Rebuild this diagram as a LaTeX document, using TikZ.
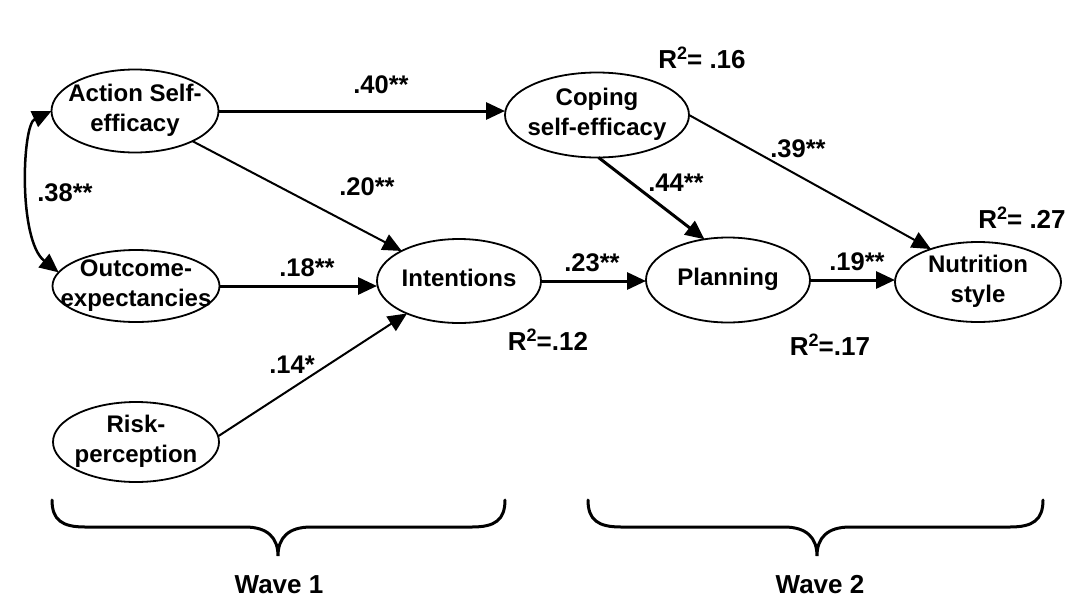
\documentclass[tikz,border=0pt]{standalone}
\usepackage{fontspec}
\setmainfont{Liberation Sans}
\usetikzlibrary{shapes.geometric,arrows.meta}
% text of a variable, centred on the node without widening its ellipse
\newcommand\vartext[1]{\smash{\makebox[0pt]{\raisebox{-.25em}{\begin{tabular}{@{}c@{}}#1\end{tabular}}}}}
% squared multiple correlation
\newcommand\rsq{R\raisebox{.36em}{\fontsize{18}{18}\selectfont 2}}
\begin{document}
\begin{tikzpicture}[x=1pt,y=-1pt,
  var/.style={ellipse,draw,line width=1.8pt,inner sep=0pt,outer sep=0pt,
    font=\bfseries\fontsize{24}{30}\selectfont},
  link/.style={line width=3pt,-{Triangle[length=19pt,width=17pt]}},
  thinlink/.style={line width=2pt,-{Triangle[length=19pt,width=17pt]}},
  coef/.style={font=\bfseries\fontsize{25.5}{25.5}\selectfont,inner sep=0pt},
  rlabel/.style={font=\bfseries\fontsize{26}{26}\selectfont,inner sep=0pt},
  wavebrace/.style={line width=3pt,line cap=round},
  wavelabel/.style={font=\bfseries\fontsize{26}{26}\selectfont,inner sep=0pt}]
\useasboundingbox (0,0) rectangle (1069,603);

% variables
\node[var,minimum width=167pt,minimum height=83pt] (asf) at (135,111) {\vartext{Action Self-\\efficacy}};
\node[var,minimum width=167pt,minimum height=72pt] (oe)  at (136,286) {\vartext{Outcome-\\expectancies}};
\node[var,minimum width=166pt,minimum height=80pt] (rp)  at (136,442) {\vartext{Risk-\\perception}};
\node[var,minimum width=164pt,minimum height=84pt] (int) at (459,281) {\vartext{Intentions}};
\node[var,minimum width=184pt,minimum height=85pt] (cop) at (597,115) {\vartext{Coping\\self-efficacy}};
\node[var,minimum width=164pt,minimum height=85pt] (pl)  at (728,280) {\vartext{Planning}};
\node[var,minimum width=166pt,minimum height=80pt] (nut) at (978,282) {\vartext{Nutrition\\style}};

% paths
\draw[link] (asf.east) -- (cop.west |- asf.east);
\draw[thinlink] (asf) -- (int);
\draw[link] (oe.east) -- (int.west |- oe.east);
\draw[thinlink] (rp.4) -- (int.212);
\draw[link] (int.east) -- (pl.west |- int.east);
\draw[link] (cop.272) -- (pl.120);
\draw[thinlink] (cop.east) -- (nut.145);
\draw[link] (pl.east) -- (nut.west |- pl.east);

% correlation between the first two predictors
\draw[line width=2.5pt,{Triangle[length=19pt,width=17pt]}-{Triangle[length=19pt,width=17pt]}]
  (asf.west) .. controls (22,125) and (18,240) .. (oe.170);

% coefficients
\node[coef] (c38) at (65,193) {.38**};
\node[coef] (c40) at (381,85) {.40**};
\node[coef] (c20) at (367,187) {.20**};
\node[coef] (c18) at (307,268) {.18**};
\node[coef] (c14) at (292,365) {.14*};
\node[coef] (c23) at (592,263) {.23**};
\node[coef] (c44) at (676,183) {.44**};
\node[coef] (c39) at (798,149) {.39**};
\node[coef] (c19) at (857,262) {.19**};

% explained variance
\node[rlabel] (r16) at (702,58)  {\rsq= .16};
\node[rlabel] (r12) at (548,340) {\rsq=.12};
\node[rlabel] (r17) at (830,345) {\rsq=.17};
\node[rlabel] (r27) at (1022,218) {\rsq= .27};

% measurement waves
\draw[wavebrace] (52,500) .. controls (52,520) and (62,527) .. (85,527) -- (245,527)
  .. controls (268,527) and (278,538) .. (278,556)
  .. controls (278,538) and (288,527) .. (311,527) -- (472,527)
  .. controls (495,527) and (505,520) .. (505,500);
\draw[wavebrace] (588,500) .. controls (588,520) and (598,527) .. (621,527) -- (784,527)
  .. controls (807,527) and (817,538) .. (817,556)
  .. controls (817,538) and (827,527) .. (850,527) -- (1010,527)
  .. controls (1033,527) and (1043,520) .. (1043,500);
\node[wavelabel] (w1) at (279,585) {Wave 1};
\node[wavelabel] (w2) at (820,585) {Wave 2};
\end{tikzpicture}
\end{document}
